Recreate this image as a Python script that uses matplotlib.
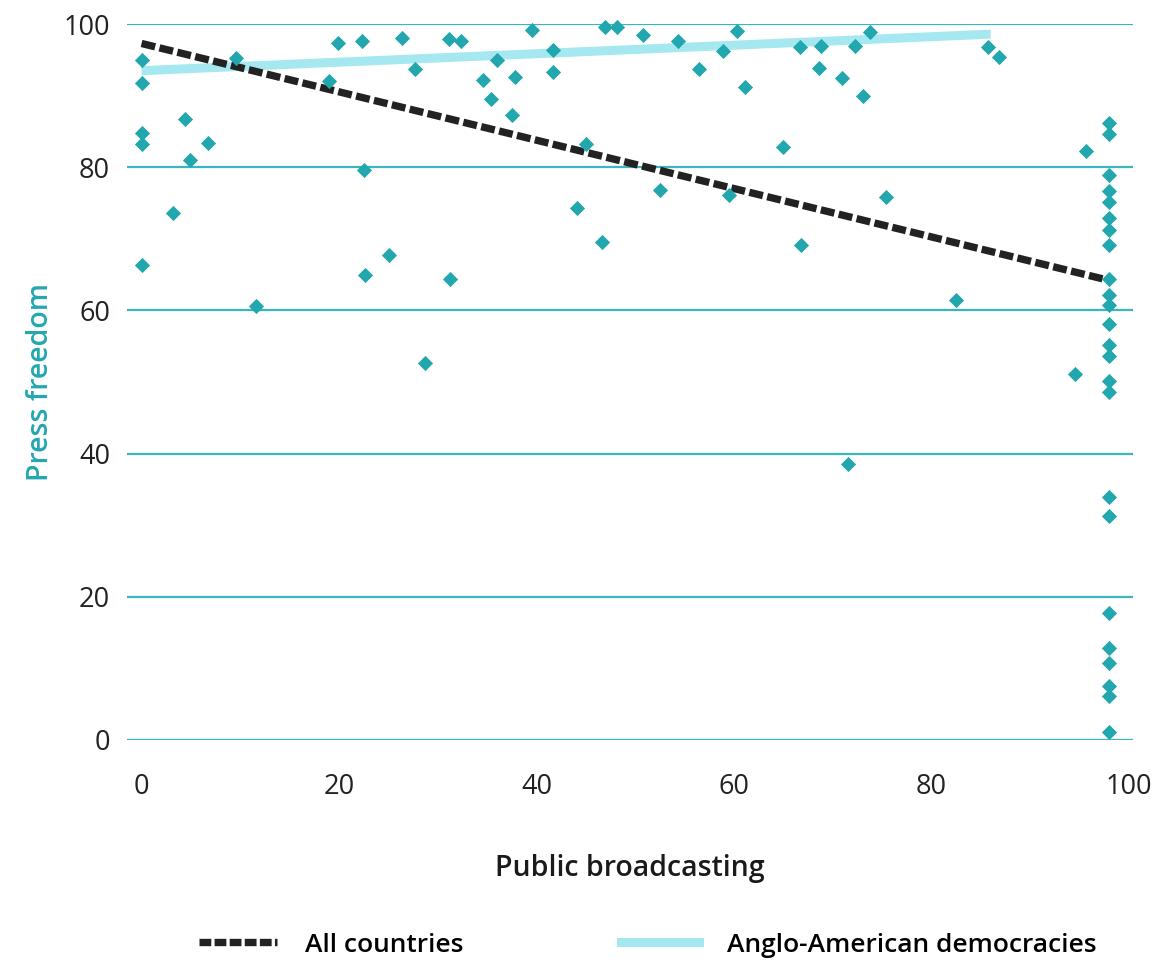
import matplotlib.pyplot as plt
from matplotlib.lines import Line2D

# scatter points: public broadcasting share vs press freedom
broadcast = [0, 0, 0, 0, 0,
             4.4, 6.7, 4.9, 3.2, 11.6, 9.6,
             19.9, 22.3, 26.4, 31.1, 32.4,
             19.0, 27.7, 36.0, 34.6, 37.8, 35.4, 37.5,
             22.5, 25.1, 22.6, 31.2, 28.7,
             39.5, 46.9, 48.2, 50.8, 54.3, 60.3, 73.8,
             41.7, 41.7, 56.5, 58.9, 66.7, 68.8, 72.3,
             61.1, 68.6, 70.9, 73.1,
             45.0, 65.0, 52.5, 59.5, 75.4, 44.1, 46.6, 66.8,
             85.7, 86.9, 95.7, 82.5, 94.5, 71.6]
freedom = [95.0, 91.8, 84.8, 83.2, 66.4,
           86.7, 83.4, 81.0, 73.6, 60.6, 95.3,
           97.3, 97.6, 98.0, 97.9, 97.6,
           92.1, 93.7, 95.0, 92.2, 92.6, 89.5, 87.3,
           79.6, 67.8, 64.9, 64.4, 52.6,
           99.2, 99.6, 99.6, 98.5, 97.6, 99.1, 98.9,
           96.4, 93.3, 93.8, 96.2, 96.8, 97.0, 97.0,
           91.2, 93.9, 92.5, 90.0,
           83.3, 82.9, 76.8, 76.1, 75.8, 74.3, 69.6, 69.2,
           96.8, 95.4, 82.3, 61.5, 51.1, 38.5]

# the column of countries with (almost) only public broadcasting
full_public_x = 98
full_public_freedom = [86.2, 84.6, 78.9, 76.7, 75.2, 72.9, 71.3, 69.1, 64.4, 62.2,
                       60.8, 58.1, 55.2, 53.6, 50.1, 48.6, 33.9, 31.3, 17.8, 12.8,
                       10.7, 7.6, 6.1, 1.1]

# fitted lines (endpoints)
all_fit_x = [0, 98]
all_fit_y = [97.3, 64.2]
anglo_fit_x = [0, 86]
anglo_fit_y = [93.5, 98.6]

y_ticks = [0, 20, 40, 60, 80, 100]
x_ticks = [0, 20, 40, 60, 80, 100]

teal = '#23a7af'
grid_teal = '#3ab6be'
light = '#a6e8ef'

plt.rcParams['font.family'] = ['Open Sans', 'DejaVu Sans']

fig = plt.figure(figsize=(11.63, 9.66), dpi=100)
ax = fig.add_axes([0.109, 0.234, 0.865, 0.741])

for v in y_ticks:
    ax.axhline(v, color=grid_teal, lw=1.6, zorder=1)

ax.plot(anglo_fit_x, anglo_fit_y, color=light, lw=6.5, solid_capstyle='butt', zorder=2)
ax.plot(all_fit_x, all_fit_y, color='#222222', lw=5.3, dashes=(1.9, 0.6),
        dash_capstyle='butt', zorder=3)

ax.scatter(broadcast, freedom, marker='D', s=60, color=teal, lw=0, zorder=4, clip_on=False)
ax.scatter([full_public_x] * len(full_public_freedom), full_public_freedom, marker='D',
           s=60, color=teal, lw=0, zorder=4, clip_on=False)

ax.set_xlim(-1.5, 100.4)
ax.set_ylim(0, 100)
for s in ax.spines.values():
    s.set_visible(False)

ax.set_yticks(y_ticks)
ax.set_yticklabels([str(v) for v in y_ticks])
ax.tick_params(axis='y', length=0, pad=12, labelsize=19.5, labelcolor='#222222')

ax.set_xticks(x_ticks)
ax.set_xticklabels([str(v) for v in x_ticks])
ax.set_xticks([20, 40, 60, 80], minor=True)
ax.tick_params(axis='x', which='major', length=0, pad=24, labelsize=19.5, labelcolor='#222222')
ax.tick_params(axis='x', which='minor', length=7, width=1.2, color=grid_teal, direction='out')

ax.set_xlabel('Public broadcasting', fontsize=20.5, fontweight='semibold', labelpad=38,
              color='#1a1a1a')
ax.set_ylabel('Press freedom', fontsize=20.5, fontweight='semibold', color=teal, labelpad=6)

handles = [Line2D([], [], color='#222222', lw=5.3, dashes=(1.6, 0.45)),
           Line2D([], [], color=light, lw=6.5)]
fig.legend(handles, ['All countries', 'Anglo-American democracies'],
           loc='center', bbox_to_anchor=(0.557, 1 - 945 / 966), ncol=2, frameon=False,
           handlelength=2.95, handletextpad=1.05, columnspacing=6.0,
           prop={'size': 19, 'weight': 'semibold'})

plt.savefig('out.png', dpi=100, facecolor='white')
plt.close()
